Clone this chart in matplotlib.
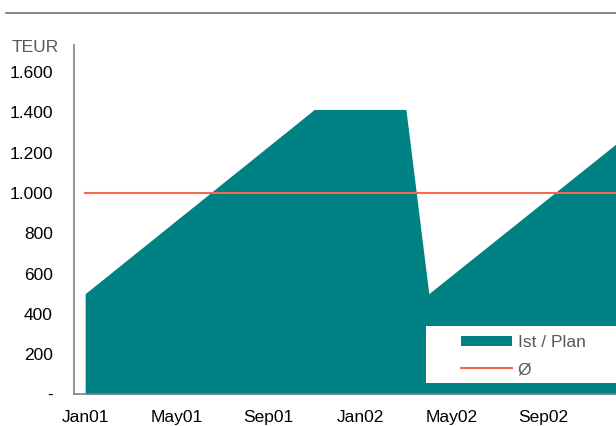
import numpy as np
import matplotlib.pyplot as plt
from matplotlib.patches import Patch, Rectangle
from matplotlib.lines import Line2D

plt.rcParams['font.family'] = ['Liberation Sans', 'DejaVu Sans']

months = ["Jan01", "Feb01", "Mar01", "Apr01", "May01", "Jun01", "Jul01", "Aug01",
          "Sep01", "Oct01", "Nov01", "Dec01", "Jan02", "Feb02", "Mar02", "Apr02",
          "May02", "Jun02", "Jul02", "Aug02", "Sep02", "Oct02", "Nov02", "Dec02",
          "Jan03"]
ist = [500, 591, 683, 774, 866, 957, 1049, 1140, 1232, 1323, 1415, 1415, 1415,
       1415, 1415, 500, 591, 682, 773, 864, 955, 1046, 1137, 1228, 1319]
avg = 1000

yticks = [0, 200, 400, 600, 800, 1000, 1200, 1400, 1600]
ylabels = ["-", "200", "400", "600", "800", "1.000", "1.200", "1.400", "1.600"]

teal = "#008284"
orange = "#F4694F"
grey = "#808080"
fs = 12.5

fig = plt.figure(figsize=(6.16, 4.26), dpi=100)
W, H = 616, 426
ax = fig.add_axes([73.7 / W, (H - 394.3) / H, 1 - 73.7 / W, (394.3 - 45) / H])

x = np.arange(len(months))
ax.fill_between(x, ist, color=teal, linewidth=0, zorder=2)
ax.plot(x, [avg] * len(x), color=orange, linewidth=1.5, zorder=3)

ax.set_yticks(yticks)
ax.set_yticklabels(ylabels)
ax.set_xticks(x[:21:4])
ax.set_xticklabels(months[:21:4])
ax.set_xlim(-0.5, 23.17)
ax.set_ylim(0, 1735)
ax.tick_params(length=0, labelsize=fs, colors="black")
ax.tick_params(axis="y", pad=15)
ax.tick_params(axis="x", pad=11)

for side in ["top", "right"]:
    ax.spines[side].set_visible(False)
for side in ["left", "bottom"]:
    ax.spines[side].set_color(grey)
    ax.spines[side].set_linewidth(1.2)
    ax.spines[side].set_zorder(5)

# unit label and rule across the top
fig.text(12 / W, 1 - 47 / H, "TEUR", fontsize=fs, color="#595959", va="center")
fig.add_artist(Line2D([6 / W, 1], [1 - 12.7 / H, 1 - 12.7 / H], color="#707070", linewidth=1.2))

# legend box
fig.add_artist(Rectangle((426 / W, 1 - 382.7 / H), (W - 426) / W, 57 / H,
                         transform=fig.transFigure, facecolor="white", edgecolor="none", zorder=4))
handles = [Patch(facecolor=teal, edgecolor="none"),
           Line2D([0], [0], color=orange, linewidth=1.5)]
leg = fig.legend(handles, ["Ist / Plan", "Ø"], loc="upper left",
                 bbox_to_anchor=(447 / W, 1 - 321 / H), frameon=False,
                 fontsize=fs, handlelength=2.93, handleheight=0.52,
                 handletextpad=0.35, labelspacing=0.7, borderpad=0.3)
leg.set_zorder(6)
for t in leg.get_texts():
    t.set_color("#595959")

fig.savefig("out.png", dpi=100)
